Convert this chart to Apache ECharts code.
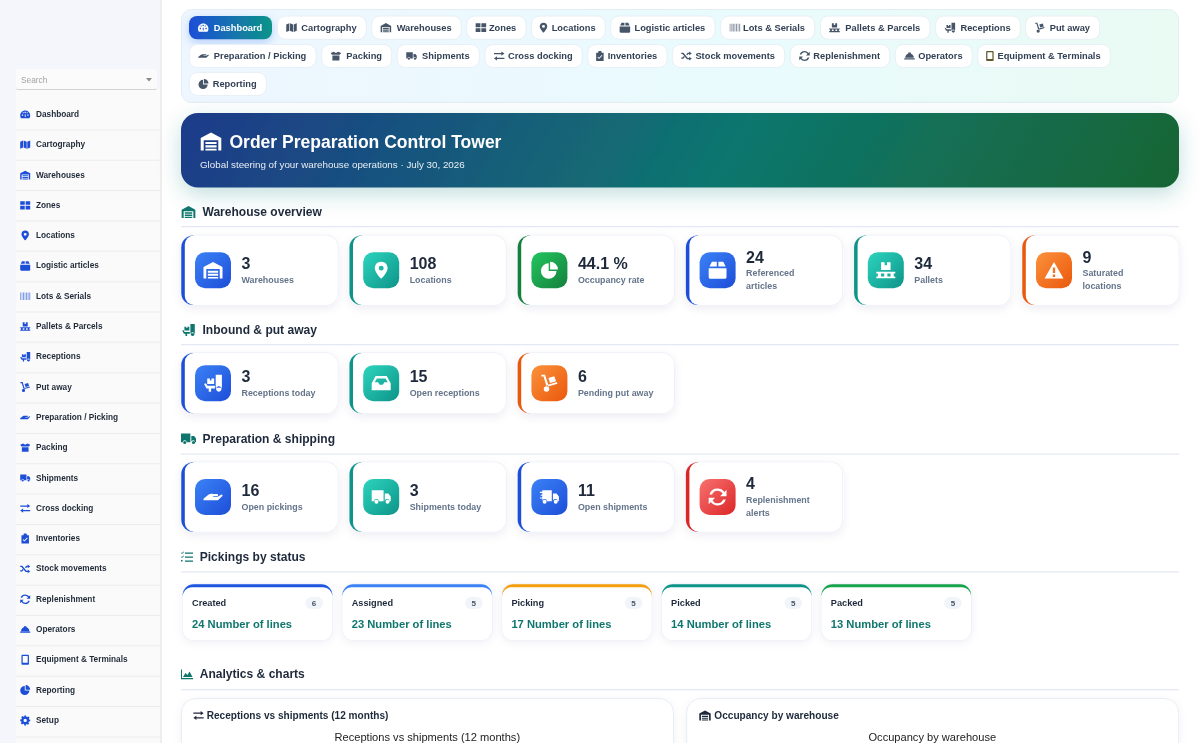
<!DOCTYPE html>
<html>
<head>
<meta charset="utf-8">
<title>Order Preparation Control Tower</title>
<script src="https://cdn.jsdelivr.net/npm/echarts@6/dist/echarts.min.js"></script>
<style>
  html, body { margin: 0; padding: 0; background: #fff; overflow: hidden; }
  #page { width: 1200px; height: 743px; filter: blur(0.3px); }
</style>
</head>
<body>
<div id="page"></div>
<script>
// menu
var navLabels = ['Dashboard', 'Cartography', 'Warehouses', 'Zones', 'Locations', 'Logistic articles', 'Lots & Serials',
  'Pallets & Parcels', 'Receptions', 'Put away', 'Preparation / Picking', 'Packing', 'Shipments', 'Cross docking',
  'Inventories', 'Stock movements', 'Replenishment', 'Operators', 'Equipment & Terminals', 'Reporting', 'Setup'];
var navIcons = ['gauge', 'map', 'warehouse', 'zones', 'pin', 'box', 'barcode', 'pallet', 'dolly', 'handTruck', 'hand',
  'boxes', 'truck', 'exchange', 'clipboard', 'shuffle', 'sync', 'hat', 'mobile', 'pie', 'cog'];

// kpi cards
var overviewValues = ['3', '108', '44.1 %', '24', '34', '9'];
var overviewLabels = ['Warehouses', 'Locations', 'Occupancy rate', 'Referenced\narticles', 'Pallets', 'Saturated\nlocations'];
var overviewIcons = ['warehouse', 'pin', 'pie', 'box', 'pallet', 'warning'];
var overviewTones = ['blue', 'teal', 'green', 'blue', 'teal', 'orange'];

var inboundValues = ['3', '15', '6'];
var inboundLabels = ['Receptions today', 'Open receptions', 'Pending put away'];
var inboundIcons = ['dolly', 'inbox', 'handTruck'];
var inboundTones = ['blue', 'teal', 'orange'];

var shippingValues = ['16', '3', '11', '4'];
var shippingLabels = ['Open pickings', 'Shipments today', 'Open shipments', 'Replenishment\nalerts'];
var shippingIcons = ['hand', 'truck', 'fastTruck', 'sync'];
var shippingTones = ['blue', 'teal', 'blue', 'red'];

// pickings by status
var statusNames = ['Created', 'Assigned', 'Picking', 'Picked', 'Packed'];
var statusCounts = [6, 5, 5, 5, 5];
var statusLines = [24, 23, 17, 14, 13];
var statusColors = ['#1d54e0', '#3b82f6', '#f59e0b', '#0d9488', '#16a34a'];

var FONT = '"Liberation Sans", Arial, sans-serif';
var tones = {
  blue: ['#3b82f6', '#1d4ed8'],
  teal: ['#2dd4bf', '#0d9488'],
  green: ['#22c55e', '#15803d'],
  orange: ['#fb923c', '#ea580c'],
  red: ['#f87171', '#dc2626']
};

var ICONS = {
  warehouse: 'M0 22V7.5L12 1l12 6.5V22h-3.5V10h-17v12z M5.5 12h13v2.5h-13z M5.5 16h13v2.5h-13z M5.5 20h13v2h-13z',
  gauge: 'M12 3C5.4 3 0 8.4 0 15c0 2.4.7 4.6 1.9 6.5.3.3.6.5 1 .5h18.2c.4 0 .7-.2 1-.5 1.2-1.9 1.9-4.1 1.9-6.5C24 8.4 18.6 3 12 3z M10.5 6h3v3h-3z M11 12h2v7h-2z M4 13h3v3H4z M17 13h3v3h-3z M6 7.5h2.5V10H6z M15.5 7.5H18V10h-2.5z',
  map: 'M0 5l7-3v17l-7 3z M8.5 2l7 3v17l-7-3z M17 5l7-3v17l-7 3z',
  zones: 'M1 3h10v8H1z M13 3h10v8H13z M1 13h10v8H1z M13 13h10v8H13z',
  pin: 'M12 0C6.5 0 3 4 3 9c0 6 9 15 9 15s9-9 9-15c0-5-3.5-9-9-9z M12 5.5a3.5 3.5 0 1 1 0 7a3.5 3.5 0 1 1 0-7z',
  box: 'M1 10h22v11c0 1-1 2-2 2H3c-1 0-2-1-2-2z M2 8l3-6h6v6z M13 2h6l3 6h-9z',
  barcode: 'M0 3h2v18H0z M3.5 3h1.5v18H3.5z M6.5 3h3v18h-3z M11 3h1.5v18H11z M14 3h3v18h-3z M18.5 3h1.5v18h-1.5z M21.5 3H24v18h-2.5z',
  pallet: 'M6 2h4.5v4h3V2H18v10H6z M0 14h24v2.5H0z M0 20h24v2.5H0z M2 16h4v4H2z M10 16h4v4h-4z M18 16h4v4h-4z',
  dolly: 'M15 1h8v17h-8z M4 6h3.5v2.5h2V6H13v7H4z M0 13l2-1 2.5 3.5H14V19H3z M19 16a3.5 3.5 0 1 0 .01 0z M6 19h3v4H6z',
  handTruck: 'M1 1h5l4.5 14-2.8.9L4 3.5H1z M10 14.5l12-3.5.8 2.4-12.5 3.6z M8 16.5a3.7 3.7 0 1 1 0 7.4a3.7 3.7 0 1 1 0-7.4z M10.5 5.5l8-2.5 2.3 7-8 2.3z',
  hand: 'M0 20l6-5c2-1.5 4-1.5 6-1h5c1 0 1.5 1 1 2s-1 1-2 1h-4v1h5l5-3c1-.5 2 .5 1.5 1.5L18 22H0z',
  boxes: 'M0 4l7-3 5 3 5-3 7 3-3 4H3z M4 10h16v11H4z',
  truck: 'M0 4h15v14H9a3 3 0 0 0-6 0H0z M16.5 8H21l3 4v6h-1.5a3 3 0 0 0-6 0z M3.5 18.5a2.5 2.5 0 1 0 5 0a2.5 2.5 0 1 0-5 0z M17.5 18.5a2.5 2.5 0 1 0 5 0a2.5 2.5 0 1 0-5 0z',
  fastTruck: 'M3 4h12v14H9a3 3 0 0 0-6 0z M16.5 8H21l3 4v6h-1.5a3 3 0 0 0-6 0z M3.5 18.5a2.5 2.5 0 1 0 5 0a2.5 2.5 0 1 0-5 0z M17.5 18.5a2.5 2.5 0 1 0 5 0a2.5 2.5 0 1 0-5 0z M0 6h8v1.5H0z M1 9.5h8V11H1z M0 13h8v1.5H0z',
  exchange: 'M0 5h17V1.5l7 5-7 5V8H0z M24 16H7v-3.5l-7 5 7 5V19h17z',
  clipboard: 'M3 4h5V2c0-1 1-2 2-2h4c1 0 2 1 2 2v2h5v20H3z M10 19L18 11L16.5 9.5L10 16L7.5 13.5L6 15z',
  shuffle: 'M0 5h5l10 12h3v-3l6 4.5-6 4.5v-3h-5L3 8H0z M0 16h3l3-3.5 2 2.5-3.5 4H0z M11.5 8.5L15 5h3V2l6 4.5-6 4.5V8h-1.5l-3 3z',
  sync: 'M12 2a10 10 0 0 1 8 4l2.5-2.5V11h-7.5l3-3A7 7 0 0 0 5.5 9H2.4A10 10 0 0 1 12 2z M12 22a10 10 0 0 1-8-4l-2.5 2.5V13h7.5l-3 3a7 7 0 0 0 12.5-1h3.1A10 10 0 0 1 12 22z',
  hat: 'M9 4h6v4H9z M2 16a10 10 0 0 1 20 0z M0 17h24v3H0z',
  mobile: 'M5 0h14c1 0 2 1 2 2v20c0 1-1 2-2 2H5c-1 0-2-1-2-2V2c0-1 1-2 2-2z M6 3v16h12V3z',
  pie: 'M11 2v11h11A11 11 0 1 1 11 2z M13 0a11 11 0 0 1 11 11H13z',
  cog: 'M10 0h4l.7 3.2 2.2.9L19.7 2.4l2.8 2.8-1.7 2.8.9 2.2L24 10v4l-3.2.7-.9 2.2 1.7 2.8-2.8 2.8-2.8-1.7-2.2.9L14 24h-4l-.7-3.2-2.2-.9-2.8 1.7-2.8-2.8 1.7-2.8-.9-2.2L0 14v-4l3.2-.7.9-2.2L2.4 4.3l2.8-2.8L8 3.2l2.2-.9z M12 8a4 4 0 1 0 0 8a4 4 0 1 0 0-8z',
  inbox: 'M5 3h14l5 9v9H0v-9z M6.5 6L3.8 11H8l2 3h4l2-3h4.2L17.5 6z',
  warning: 'M12 1L24 22H0z M10.5 8v7h3V8z M10.5 17v3h3v-3z',
  tasks: 'M0 3l1-1 1 1 3-3 1 1-4 4z M0 11l1-1 1 1 3-3 1 1-4 4z M0 17h3v3H0z M8 2h16v2.5H8z M8 10h16v2.5H8z M8 18h16v2.5H8z',
  area: 'M0 3h2v17h22v2.5H0z M4 18l5-8 4 4 4-7 6 11z'
};

var els = [];
var glyphs = [];

function box(x, y, w, h, r, style) {
  els.push({ type: 'rect', shape: { x: x, y: y, width: w, height: h, r: r }, style: style });
}
function text(str, x, y, size, weight, color, align) {
  els.push({
    type: 'text',
    style: {
      text: str, x: x, y: y, fill: color,
      font: weight + ' ' + size + 'px ' + FONT,
      align: align || 'left', verticalAlign: 'middle',
      textAlign: align || 'left', textVerticalAlign: 'middle'
    }
  });
}
// graphic has no path element, glyphs go through a custom series
function icon(name, cx, cy, w, h, color, opacity) {
  glyphs.push({ name: name, x: cx - w / 2, y: cy - h / 2, w: w, h: h, color: color, opacity: opacity === undefined ? 1 : opacity });
}
function diag(c0, c1) {
  return { type: 'linear', x: 0, y: 0, x2: 1, y2: 1, colorStops: [{ offset: 0, color: c0 }, { offset: 1, color: c1 }] };
}

// sidebar
box(0, 0, 160, 743, 0, { fill: '#f4f6fb' });
box(160, 0, 2, 743, 0, { fill: '#eeeeee' });
box(16, 89, 144, 654, 0, { fill: '#fafafa' });
box(16, 69, 141, 20, 2, { fill: '#fbfbfb', shadowBlur: 1.5, shadowOffsetY: 1, shadowColor: 'rgba(0,0,0,.16)' });
text('Search', 21, 79.8, 8.3, 'normal', '#a3a3a3');
els.push({ type: 'polygon', shape: { points: [[146, 78], [152, 78], [149, 81.6]] }, style: { fill: '#8a8a8a' } });
navLabels.forEach(function (label, i) {
  var cy = 114.4 + 30.3 * i;
  box(16, 129.4 + 30.35 * i, 144, 1, 0, { fill: '#ececec' });
  var faded = navIcons[i] === 'barcode' ? 0.55 : 1;
  icon(navIcons[i], 25.2, cy, 10, 10, '#1d4ed8', faded);
  text(label, 36, cy, 8.25, 'bold', '#1f2937');
});

// shortcut tabs, edges read per row
var tabRows = [
  { y: 16, h: 23.3, items: [['Dashboard', 'gauge', 189, 272], ['Cartography', 'map', 277.3, 366.3], ['Warehouses', 'warehouse', 371.7, 461.3], ['Zones', 'zones', 466.7, 526], ['Locations', 'pin', 531.3, 605.3], ['Logistic articles', 'box', 610.7, 715], ['Lots & Serials', 'barcode', 720.7, 814.7], ['Pallets & Parcels', 'pallet', 820.3, 930], ['Receptions', 'dolly', 935.7, 1020.3], ['Put away', 'handTruck', 1025.7, 1099.7]] },
  { y: 44.5, h: 23, items: [['Preparation / Picking', 'hand', 189.3, 316], ['Packing', 'boxes', 321.7, 391.7], ['Shipments', 'truck', 397.3, 479.3], ['Cross docking', 'exchange', 485, 582.3], ['Inventories', 'clipboard', 587.7, 667], ['Stock movements', 'shuffle', 672.3, 784.7], ['Replenishment', 'sync', 790.3, 889.7], ['Operators', 'hat', 895.3, 972.3], ['Equipment & Terminals', 'mobile', 977.7, 1110.3]] },
  { y: 72.5, h: 23, items: [['Reporting', 'pie', 189.3, 266.3]] }
];
var narrowIcons = ['mobile', 'clipboard', 'pin'];
box(181.5, 9.5, 997, 93, 10, {
  stroke: '#e2edf4', lineWidth: 1,
  fill: { type: 'linear', x: 0, y: 0, x2: 1, y2: 0, colorStops: [{ offset: 0, color: '#eef6ff' }, { offset: 0.55, color: '#e9fbfd' }, { offset: 1, color: '#eafbf4' }] }
});
tabRows.forEach(function (row) {
  row.items.forEach(function (t) {
    var active = t[0] === 'Dashboard';
    box(t[2], row.y, t[3] - t[2], row.h, 8, active ? {
      fill: { type: 'linear', x: 0, y: 0, x2: 1, y2: 0, colorStops: [{ offset: 0, color: '#1d4ed8' }, { offset: 1, color: '#0d9488' }] },
      shadowBlur: 9, shadowOffsetY: 3, shadowColor: 'rgba(37,99,235,.28)'
    } : { fill: '#ffffff', stroke: '#e8eff6', lineWidth: 1 });
    var color = active ? '#ffffff' : '#475569';
    var iconX = t[2] + (narrowIcons.indexOf(t[1]) >= 0 ? 12.2 : 14.2);
    icon(t[1], iconX, row.y + row.h / 2, 10.5, 10, t[1] === 'mobile' ? '#5f5a2e' : color, t[1] === 'barcode' ? 0.6 : 1);
    text(t[0], t[3] - 9.7, row.y + row.h / 2, 9.3, 'bold', active ? '#ffffff' : '#334155', 'right');
  });
});

// banner
box(181, 113, 998, 74.5, 17, {
  fill: {
    type: 'linear', global: true, x: 290, y: -75, x2: 1070, y2: 375,
    colorStops: [{ offset: 0, color: '#1e3a8a' }, { offset: 0.55, color: '#0f766e' }, { offset: 1, color: '#166534' }]
  },
  shadowBlur: 22, shadowOffsetY: 7, shadowColor: 'rgba(15,118,110,.24)'
});
icon('warehouse', 211, 141.5, 22, 18, '#ffffff');
text('Order Preparation Control Tower', 229.5, 141.8, 17.5, 'bold', '#ffffff');
text('Global steering of your warehouse operations · July 30, 2026', 200, 164, 9.8, 'normal', 'rgba(255,255,255,.9)');

// section heading with its rule
function section(title, iconName, y, ruleY, textX, iw, ih) {
  icon(iconName, 181 + iw / 2, y, iw, ih, '#0f766e');
  text(title, textX, y - 0.1, 12.05, 'bold', '#1e293b');
  box(181, ruleY, 998, 1.2, 0, { fill: '#e3e8f4' });
}

// kpi row
function kpiRow(top, height, values, labels, icons, rowTones) {
  values.forEach(function (value, i) {
    var x = 181.3 + 168.2 * i, w = 156.4, mid = top + height / 2, tone = tones[rowTones[i]];
    box(x, top, w, height, 12, { fill: '#ffffff', stroke: '#ebeff8', lineWidth: 1.5, shadowBlur: 10, shadowOffsetY: 3, shadowColor: 'rgba(30,41,90,.07)' });
    box(x, top, 12, height, [12, 0, 0, 12], { fill: tone[1] });
    box(x + 3.5, top, w - 3.5, height, [9, 12, 12, 9], { fill: '#ffffff' });
    box(x + 13.7, mid - 18, 36, 36, 10, { fill: diag(tone[0], tone[1]) });
    icon(icons[i], x + 31.7, mid, 19, 17, '#ffffff');
    var lines = labels[i].split('\n');
    var tx = x + 60.2;
    if (lines.length > 1) {
      text(value, tx, mid - 13.2, 16, 'bold', '#1e293b');
      text(lines[0], tx, mid + 3.2, 8.9, 'bold', '#64748b');
      text(lines[1], tx, mid + 15.9, 8.9, 'bold', '#64748b');
    } else {
      text(value, tx, mid - 7, 16, 'bold', '#1e293b');
      text(lines[0], tx, mid + 10, 8.9, 'bold', '#64748b');
    }
  });
}

section('Warehouse overview', 'warehouse', 212, 226, 202.5, 15, 12);
kpiRow(235.5, 69.5, overviewValues, overviewLabels, overviewIcons, overviewTones);
section('Inbound & put away', 'dolly', 330, 344, 202.5, 15, 12);
kpiRow(353, 60.3, inboundValues, inboundLabels, inboundIcons, inboundTones);
section('Preparation & shipping', 'truck', 438.7, 453.5, 202.5, 15, 12);
kpiRow(462.3, 69.4, shippingValues, shippingLabels, shippingIcons, shippingTones);

// status cards
section('Pickings by status', 'tasks', 556.7, 571.2, 199.7, 12, 11);
statusNames.forEach(function (name, i) {
  var x = 182.7 + 159.7 * i, top = 584.3, w = 149.6, h = 56;
  box(x, top, w, h, 11, { fill: '#ffffff', stroke: '#ebeff8', lineWidth: 1.5, shadowBlur: 8, shadowOffsetY: 2, shadowColor: 'rgba(30,41,90,.06)' });
  box(x, top, w, 11, [11, 11, 0, 0], { fill: statusColors[i] });
  box(x, top + 3, w, h - 3, [9, 9, 11, 11], { fill: '#ffffff' });
  text(name, x + 9.3, 602.6, 9.2, 'bold', '#1e293b');
  box(x + 122.6, 597, 17.7, 12, 6, { fill: '#f1f5f9' });
  text(String(statusCounts[i]), x + 131.4, 603.2, 8, 'bold', '#475569', 'center');
  text(statusLines[i] + ' Number of lines', x + 9.3, 623.7, 11.2, 'bold', '#0f766e');
});

// analytics cards, their charts start below the visible page
section('Analytics & charts', 'area', 674.3, 689, 199.7, 12, 11);
box(181.5, 698.5, 492, 80, 14, { fill: '#ffffff', stroke: '#e7ecf6', lineWidth: 1, shadowBlur: 8, shadowOffsetY: 2, shadowColor: 'rgba(30,41,90,.05)' });
box(686.7, 698.5, 492, 80, 14, { fill: '#ffffff', stroke: '#e7ecf6', lineWidth: 1, shadowBlur: 8, shadowOffsetY: 2, shadowColor: 'rgba(30,41,90,.05)' });
icon('exchange', 198.5, 715.5, 10.5, 9, '#1e293b');
text('Receptions vs shipments (12 months)', 206.7, 715.6, 10.1, 'bold', '#1e293b');
icon('warehouse', 705, 715.5, 13, 10, '#1e293b');
text('Occupancy by warehouse', 714.3, 715.6, 10.1, 'bold', '#1e293b');

var chart = echarts.init(document.getElementById('page'), null, { renderer: 'svg', width: 1200, height: 743 });
chart.setOption({
  animation: false,
  title: [
    { text: 'Receptions vs shipments (12 months)', left: 427.3, top: 731, padding: 0, textAlign: 'center',
      textStyle: { fontFamily: FONT, fontSize: 11.1, fontWeight: 'normal', color: '#222222' } },
    { text: 'Occupancy by warehouse', left: 932.3, top: 731, padding: 0, textAlign: 'center',
      textStyle: { fontFamily: FONT, fontSize: 11.1, fontWeight: 'normal', color: '#222222' } }
  ],
  graphic: { elements: els },
  series: [{
    type: 'custom',
    coordinateSystem: 'none',
    silent: true,
    clip: false,
    data: glyphs.map(function (g, i) { return [i]; }),
    renderItem: function (params) {
      var g = glyphs[params.dataIndex];
      return {
        type: 'path',
        shape: { pathData: ICONS[g.name], x: g.x, y: g.y, width: g.w, height: g.h, layout: 'center' },
        style: { fill: g.color, opacity: g.opacity }
      };
    }
  }]
});
</script>
</body>
</html>
